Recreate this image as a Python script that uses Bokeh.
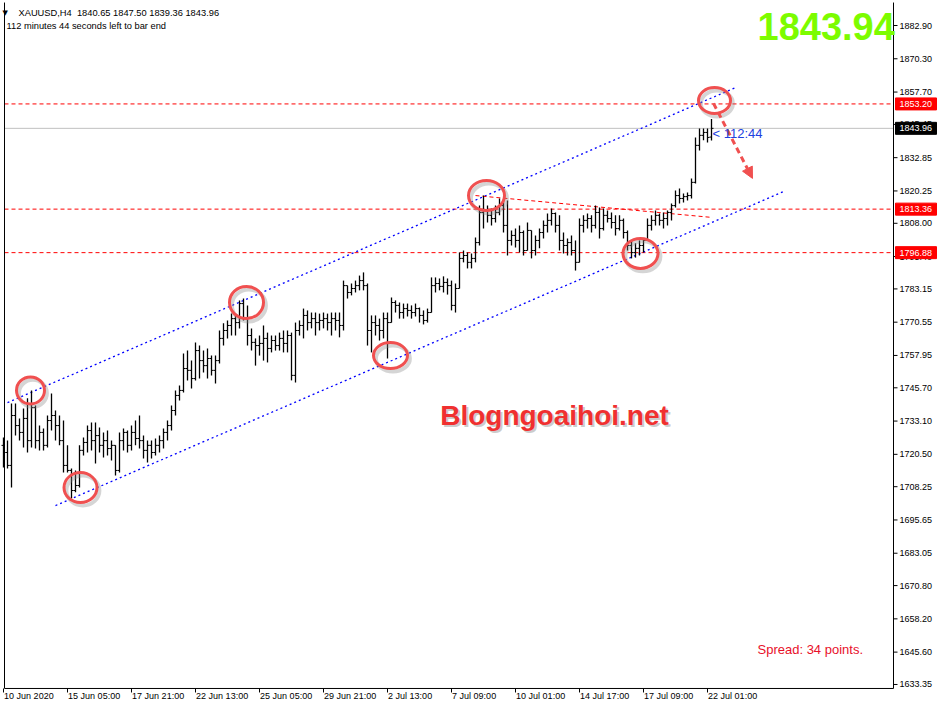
from bokeh.plotting import figure
from bokeh.models import Range1d, Label, Arrow, NormalHead
from bokeh.embed import file_html
from bokeh.resources import INLINE
from bokeh.core.properties import value

# ---------------- data (XAUUSD H4) ----------------
bar_high = [1726.9, 1725.7, 1739.8, 1739.8, 1734.1, 1737.9, 1741.7, 1744.7, 1739.0, 1731.4,
            1730.3, 1735.2, 1743.5, 1737.1, 1735.2, 1733.3, 1723.9, 1715.1, 1714.4, 1723.9,
            1726.9, 1731.4, 1732.6, 1732.6, 1730.7, 1728.8, 1729.5, 1725.7, 1723.9, 1728.8,
            1730.3, 1729.5, 1731.4, 1733.3, 1735.2, 1727.6, 1725.7, 1725.7, 1726.5, 1727.6,
            1730.3, 1733.3, 1739.0, 1744.7, 1746.6, 1758.7, 1759.8, 1756.0, 1762.9, 1761.7,
            1759.8, 1760.6, 1757.9, 1757.9, 1767.4, 1770.1, 1771.2, 1773.8, 1773.1, 1778.8,
            1779.5, 1776.9, 1768.2, 1764.4, 1765.5, 1769.3, 1766.6, 1765.5, 1765.5, 1766.6,
            1767.4, 1767.4, 1766.6, 1770.4, 1771.2, 1775.7, 1775.0, 1774.2, 1774.2, 1773.8,
            1774.2, 1773.8, 1774.2, 1774.2, 1774.2, 1786.3, 1784.4, 1785.2, 1786.3, 1788.2,
            1789.4, 1785.2, 1773.1, 1773.1, 1771.9, 1774.2, 1774.2, 1779.9, 1778.8, 1778.0,
            1777.6, 1777.6, 1776.9, 1777.6, 1776.1, 1775.0, 1775.7, 1787.5, 1787.5, 1787.1,
            1787.9, 1787.1, 1786.3, 1785.2, 1796.9, 1797.7, 1796.9, 1796.6, 1802.6, 1814.7,
            1818.5, 1814.7, 1813.6, 1814.7, 1817.4, 1816.6, 1816.6, 1805.3, 1806.0, 1807.2,
            1805.3, 1808.3, 1805.3, 1803.4, 1806.0, 1809.1, 1811.7, 1813.6, 1812.1, 1811.0,
            1804.5, 1802.2, 1803.4, 1801.5, 1809.8, 1811.0, 1811.7, 1811.0, 1814.7, 1814.0,
            1813.6, 1812.8, 1812.1, 1811.0, 1811.0, 1809.8, 1805.3, 1801.5, 1800.4, 1801.5,
            1802.2, 1809.8, 1811.0, 1812.8, 1811.7, 1812.1, 1812.8, 1815.5, 1820.4, 1821.2,
            1819.3, 1819.7, 1825.0, 1840.5, 1843.9, 1843.9, 1843.9, 1847.50]
bar_low = [1715.5, 1715.1, 1707.9, 1727.6, 1725.7, 1723.1, 1721.2, 1723.1, 1722.7, 1722.0,
           1722.0, 1723.1, 1729.5, 1725.7, 1723.9, 1713.6, 1713.6, 1703.8, 1706.1, 1707.9,
           1720.1, 1721.2, 1722.0, 1717.0, 1721.2, 1719.3, 1720.1, 1718.2, 1712.5, 1713.6,
           1722.0, 1721.2, 1722.0, 1723.9, 1722.7, 1718.9, 1717.4, 1718.9, 1720.1, 1721.2,
           1722.7, 1725.7, 1729.5, 1735.2, 1740.9, 1743.9, 1748.5, 1745.4, 1748.5, 1749.2,
           1751.5, 1749.2, 1750.4, 1747.3, 1754.9, 1761.7, 1764.4, 1765.5, 1765.5, 1768.2,
           1771.2, 1761.7, 1759.8, 1754.1, 1757.9, 1756.0, 1755.3, 1759.1, 1759.8, 1759.8,
           1759.1, 1759.1, 1748.5, 1747.7, 1765.5, 1764.4, 1767.4, 1768.2, 1765.5, 1767.4,
           1768.2, 1767.4, 1765.5, 1767.4, 1764.8, 1767.4, 1779.5, 1780.7, 1781.8, 1782.6,
           1782.6, 1761.7, 1759.1, 1765.5, 1763.6, 1764.4, 1756.8, 1770.4, 1774.2, 1771.9,
           1771.9, 1772.7, 1771.9, 1772.7, 1770.4, 1769.7, 1770.4, 1774.2, 1781.8, 1782.6,
           1781.8, 1781.0, 1775.0, 1774.2, 1783.3, 1793.2, 1790.9, 1790.9, 1793.2, 1799.6,
           1806.0, 1808.3, 1807.2, 1808.3, 1811.0, 1804.5, 1795.8, 1799.6, 1798.8, 1796.9,
           1795.8, 1797.7, 1794.7, 1795.8, 1798.5, 1802.2, 1804.5, 1807.2, 1804.5, 1797.7,
           1796.6, 1795.8, 1795.8, 1790.1, 1793.2, 1804.5, 1806.0, 1804.5, 1806.0, 1802.2,
           1805.3, 1808.3, 1806.0, 1803.4, 1805.3, 1802.2, 1797.7, 1794.7, 1795.0, 1795.8,
           1796.9, 1801.5, 1805.3, 1807.2, 1807.2, 1806.0, 1807.2, 1809.1, 1814.0, 1815.5,
           1815.9, 1816.6, 1817.4, 1823.1, 1835.6, 1839.4, 1838.6, 1839.36]
bar_open = [1723.9, 1721.2, 1716.3, 1735.2, 1731.4, 1728.8, 1734.1, 1725.7, 1738.2, 1725.7,
            1728.8, 1723.9, 1733.3, 1735.2, 1731.4, 1725.7, 1716.3, 1714.4, 1706.8, 1708.7,
            1722.0, 1725.0, 1729.5, 1725.7, 1727.6, 1723.9, 1725.7, 1722.7, 1723.9, 1714.4,
            1725.7, 1728.8, 1723.9, 1728.8, 1726.5, 1725.7, 1722.0, 1723.9, 1721.2, 1723.9,
            1725.7, 1728.8, 1731.4, 1737.1, 1742.8, 1744.7, 1753.0, 1752.3, 1749.2, 1759.8,
            1756.0, 1754.1, 1756.8, 1752.3, 1756.0, 1764.4, 1767.4, 1769.3, 1771.9, 1770.4,
            1777.6, 1771.9, 1765.5, 1762.9, 1761.7, 1762.5, 1764.4, 1760.6, 1763.6, 1761.7,
            1764.4, 1762.5, 1765.5, 1750.4, 1767.4, 1769.3, 1773.1, 1770.4, 1771.9, 1770.4,
            1771.2, 1771.9, 1770.4, 1771.9, 1771.2, 1769.3, 1784.4, 1781.8, 1783.3, 1784.4,
            1786.3, 1784.4, 1767.4, 1770.4, 1769.3, 1767.4, 1771.9, 1770.4, 1778.0, 1776.9,
            1774.2, 1775.7, 1775.0, 1774.2, 1775.7, 1773.1, 1771.2, 1774.2, 1784.4, 1785.2,
            1784.1, 1785.6, 1784.4, 1776.9, 1783.3, 1794.7, 1795.8, 1793.2, 1794.7, 1800.7,
            1812.1, 1812.8, 1811.0, 1809.8, 1812.1, 1814.7, 1807.2, 1801.5, 1803.4, 1801.5,
            1804.5, 1797.7, 1805.3, 1797.7, 1801.5, 1804.5, 1807.2, 1809.1, 1811.7, 1807.2,
            1801.5, 1799.6, 1800.7, 1797.7, 1793.2, 1807.2, 1809.1, 1809.8, 1807.2, 1812.1,
            1806.0, 1811.0, 1809.8, 1808.3, 1806.0, 1809.1, 1804.5, 1799.6, 1796.9, 1798.5,
            1799.6, 1801.5, 1807.2, 1809.1, 1811.0, 1809.1, 1809.8, 1812.1, 1814.7, 1818.5,
            1817.4, 1818.1, 1818.5, 1823.5, 1837.5, 1841.3, 1842.4, 1840.65]
bar_close = [1721.2, 1716.3, 1735.2, 1731.4, 1728.8, 1734.1, 1725.7, 1738.2, 1725.7, 1728.8,
             1723.9, 1733.3, 1735.2, 1731.4, 1725.7, 1716.3, 1714.4, 1706.8, 1708.7, 1722.0,
             1725.0, 1729.5, 1725.7, 1727.6, 1723.9, 1725.7, 1722.7, 1723.9, 1714.4, 1725.7,
             1728.8, 1723.9, 1728.8, 1726.5, 1725.7, 1722.0, 1723.9, 1721.2, 1723.9, 1725.7,
             1728.8, 1731.4, 1737.1, 1742.8, 1744.7, 1753.0, 1752.3, 1749.2, 1759.8, 1756.0,
             1754.1, 1756.8, 1752.3, 1756.0, 1764.4, 1767.4, 1769.3, 1771.9, 1770.4, 1777.6,
             1771.9, 1765.5, 1762.9, 1761.7, 1762.5, 1764.4, 1760.6, 1763.6, 1761.7, 1764.4,
             1762.5, 1765.5, 1750.4, 1767.4, 1769.3, 1773.1, 1770.4, 1771.9, 1770.4, 1771.2,
             1771.9, 1770.4, 1771.9, 1771.2, 1769.3, 1784.4, 1781.8, 1783.3, 1784.4, 1786.3,
             1784.4, 1767.4, 1770.4, 1769.3, 1767.4, 1771.9, 1770.4, 1778.0, 1776.9, 1774.2,
             1775.7, 1775.0, 1774.2, 1775.7, 1773.1, 1771.2, 1774.2, 1784.4, 1785.2, 1784.1,
             1785.6, 1784.4, 1776.9, 1783.3, 1794.7, 1795.8, 1793.2, 1794.7, 1800.7, 1812.1,
             1812.8, 1811.0, 1809.8, 1812.1, 1814.7, 1807.2, 1801.5, 1803.4, 1801.5, 1804.5,
             1797.7, 1805.3, 1797.7, 1801.5, 1804.5, 1807.2, 1809.1, 1811.7, 1807.2, 1801.5,
             1799.6, 1800.7, 1797.7, 1793.2, 1807.2, 1809.1, 1809.8, 1807.2, 1812.1, 1806.0,
             1811.0, 1809.8, 1808.3, 1806.0, 1809.1, 1804.5, 1799.6, 1796.9, 1798.5, 1799.6,
             1801.5, 1807.2, 1809.1, 1811.0, 1809.1, 1809.8, 1812.1, 1814.7, 1818.5, 1817.4,
             1818.1, 1818.5, 1823.5, 1837.5, 1841.3, 1842.4, 1840.5, 1843.96]

time_tick_bars = [0, 16, 32, 48, 64, 80, 96, 112, 128, 144, 160, 176]
time_tick_labels = ["10 Jun 2020", "15 Jun 05:00", "17 Jun 21:00", "22 Jun 13:00", "25 Jun 05:00",
                    "29 Jun 21:00", "2 Jul 13:00", "7 Jul 09:00", "10 Jul 01:00", "14 Jul 17:00",
                    "17 Jul 09:00", "22 Jul 01:00"]
price_ticks = [1882.90, 1870.30, 1857.70, 1845.45, 1832.85, 1820.25, 1808.00, 1795.40, 1783.15,
               1770.55, 1757.95, 1745.70, 1733.10, 1720.50, 1708.25, 1695.65, 1683.05, 1670.80,
               1658.20, 1645.60, 1633.35]

red_levels = [1853.20, 1813.36, 1796.88]
bid_price = 1843.96

# channel lines (bar index, price)
upper_x = [1.0, 183.0]
upper_y = [1740.1, 1859.4]
lower_x = [13.0, 195.0]
lower_y = [1701.1, 1820.0]
trend_x = [118.0, 177.25]
trend_y = [1818.5, 1810.2]

# highlighted swing points
circle_x = [6.75, 19.25, 60.75, 96.75, 120.75, 159.25, 177.75]
circle_y = [1744.7, 1707.9, 1778.0, 1757.9, 1818.5, 1796.6, 1854.5]
circle_w = [28, 33, 34, 34, 36, 35, 32]
circle_h = [27, 30, 32, 26, 30, 30, 26]

arrow_x = [177.5, 187.25]
arrow_y = [1853.4, 1825.0]

FONT = "Liberation Sans"

# chart window geometry (bar index / price at the frame edges)
X_LEFT, X_RIGHT = 0.25, 222.5          # chart frame left / right edge
P_TOP, P_BOTTOM = 1891.6, 1631.83      # chart frame top / bottom edge
TICK_W = 1.0                            # 4 px in bar units
TICK_H = 1.51                           # 4 px in price units

p = figure(width=938, height=708, output_backend="svg", toolbar_location=None, title=None,
           x_range=Range1d(-0.75, 233.75), y_range=Range1d(1624.25, 1892.37),
           x_axis_location=None, y_axis_location=None, min_border=0,
           background_fill_color="white", border_fill_color="white", outline_line_color=None)
for g in p.grid:
    g.visible = False

# horizontal levels
p.segment(x0=[X_LEFT] * 3, y0=red_levels, x1=[X_RIGHT] * 3, y1=red_levels, line_color="#ff0000",
          line_width=1, line_dash="4 3")
p.segment(x0=[X_LEFT], y0=[bid_price], x1=[X_RIGHT], y1=[bid_price], line_color="#c0c0c0", line_width=1)

# channel + trend line
p.line(upper_x, upper_y, line_color="#0000ff", line_width=1.3, line_dash="2 3")
p.line(lower_x, lower_y, line_color="#0000ff", line_width=1.3, line_dash="2 3")
p.line(trend_x, trend_y, line_color="#ff0000", line_width=1, line_dash="4 3")

# OHLC bars
idx = list(range(len(bar_close)))
p.segment(x0=idx, y0=bar_low, x1=idx, y1=bar_high, line_color="black", line_width=1.3)
p.segment(x0=[i - 0.5 for i in idx], y0=bar_open, x1=idx, y1=bar_open, line_color="black", line_width=1)
p.segment(x0=idx, y0=bar_close, x1=[i + 0.5 for i in idx], y1=bar_close, line_color="black", line_width=1)

# circles with soft shadow
p.ellipse(x=[c + 0.6 for c in circle_x], y=[c - 1.1 for c in circle_y], width=circle_w, height=circle_h,
          width_units="screen", height_units="screen", fill_color=None,
          line_color="#888888", line_alpha=0.35, line_width=4)
p.ellipse(x=circle_x, y=circle_y, width=circle_w, height=circle_h,
          width_units="screen", height_units="screen", fill_color=None,
          line_color="#f05050", line_width=3)

# dashed arrow
p.add_layout(Arrow(x_start=arrow_x[0], y_start=arrow_y[0], x_end=arrow_x[1], y_end=arrow_y[1],
                   line_color="#f05050", line_width=3, line_dash="6 4",
                   end=NormalHead(size=11, fill_color="#f05050", line_color="#f05050")))

# ---- chart frame and axes (drawn like the terminal does) ----
p.segment(x0=[X_LEFT, X_LEFT, X_RIGHT], y0=[P_TOP, P_BOTTOM, P_TOP],
          x1=[X_LEFT, X_RIGHT, X_RIGHT], y1=[P_BOTTOM, P_BOTTOM, P_BOTTOM],
          line_color="black", line_width=1)
# price scale
p.segment(x0=[X_RIGHT] * len(price_ticks), y0=price_ticks, x1=[X_RIGHT + TICK_W] * len(price_ticks),
          y1=price_ticks, line_color="black", line_width=1)
p.text(x=[X_RIGHT + 1.5] * len(price_ticks), y=price_ticks, text=[f"{v:.2f}" for v in price_ticks],
       text_font=value(FONT), text_font_size="9px", text_color="black",
       text_align="left", text_baseline="middle")
# time scale
p.segment(x0=time_tick_bars, y0=[P_BOTTOM] * len(time_tick_bars), x1=time_tick_bars,
          y1=[P_BOTTOM - TICK_H] * len(time_tick_bars), line_color="black", line_width=1)
p.text(x=[t + 0.15 for t in time_tick_bars], y=[P_BOTTOM - 0.9] * len(time_tick_bars),
       text=time_tick_labels, text_font=value(FONT), text_font_size="9px", text_color="black",
       text_align="left", text_baseline="top")

# price boxes on the scale
box_levels = [1853.20, bid_price, 1813.36, 1796.88]
box_colors = ["#ff0000", "#000000", "#ff0000", "#ff0000"]
p.rect(x=[X_RIGHT + 5.625] * 4, y=box_levels, width=41, height=12, width_units="screen",
       height_units="screen", fill_color=box_colors, line_color=box_colors)
p.text(x=[X_RIGHT + 1.5] * 4, y=box_levels, text=[f"{v:.2f}" for v in box_levels],
       text_font=value(FONT), text_font_size="9px", text_color="white",
       text_align="left", text_baseline="middle")

# texts
p.add_layout(Label(x=-0.25, y=1887.8, text="\u25bc", text_font="DejaVu Sans", text_font_size="7px",
                   text_color="black", text_baseline="middle"))
p.add_layout(Label(x=3.75, y=1887.8, text="XAUUSD,H4\u00a0\u00a01840.65 1847.50 1839.36 1843.96",
                   text_font=FONT, text_font_size="9.3px", text_color="black", text_baseline="middle"))
p.add_layout(Label(x=0.75, y=1882.9, text="112 minutes 44 seconds left to bar end",
                   text_font=FONT, text_font_size="9.3px", text_color="black", text_baseline="middle"))
p.add_layout(Label(x=188.5, y=1882.5, text="1843.94", text_font=FONT, text_font_size="38px",
                   text_font_style="bold", text_color="#7cfc00", text_baseline="middle"))
p.add_layout(Label(x=177.25, y=1842.0, text="< 112:44", text_font=FONT, text_font_size="13px",
                   text_color="#2040e0", text_baseline="middle"))
p.add_layout(Label(x=137.75, y=1735.2, text="Blogngoaihoi.net", text_font=FONT, text_font_size="28px",
                   text_font_style="bold", text_color="#999999", text_alpha=0.5, text_align="center",
                   text_baseline="middle", x_offset=2, y_offset=-2))
p.add_layout(Label(x=137.75, y=1735.2, text="Blogngoaihoi.net", text_font=FONT, text_font_size="28px",
                   text_font_style="bold", text_color="#f03030", text_align="center",
                   text_baseline="middle"))
p.add_layout(Label(x=188.5, y=1646.6, text="Spread: 34 points.", text_font=FONT, text_font_size="13px",
                   text_color="#e8102a", text_baseline="middle"))

open("out.html", "w").write(file_html(p, INLINE))
